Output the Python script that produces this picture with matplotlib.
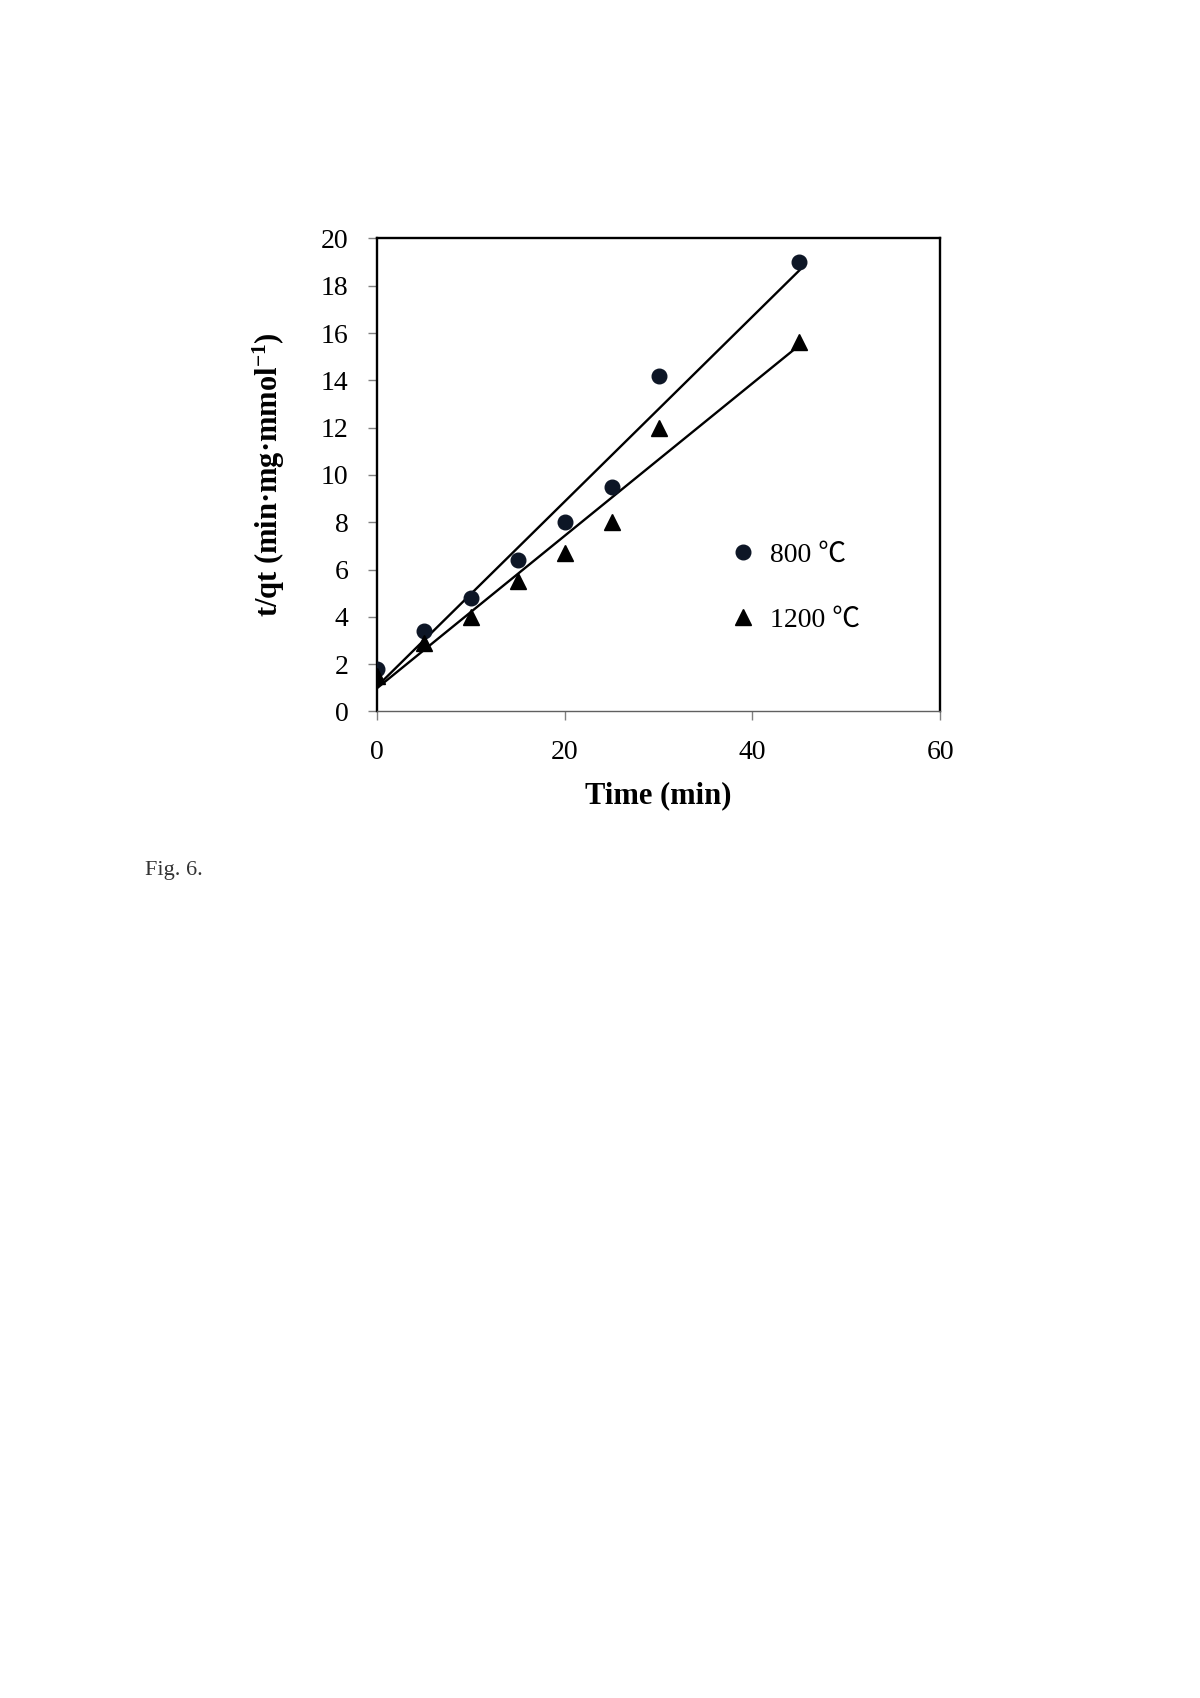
import matplotlib
matplotlib.use('Agg')
import matplotlib.pyplot as plt
import numpy as np

plt.rcParams['font.family'] = ['Liberation Serif', 'Noto Sans CJK SC', 'DejaVu Sans']
plt.rcParams['mathtext.fontset'] = 'custom'
plt.rcParams['mathtext.rm'] = 'Liberation Serif'
plt.rcParams['mathtext.bf'] = 'Liberation Serif:bold'

# tempo (min) e t/qt
tempo = [0, 5, 10, 15, 20, 25, 30, 45]
t_qt_800 = [1.8, 3.4, 4.8, 6.4, 8.0, 9.5, 14.2, 19.0]
t_qt_1200 = [1.5, 2.9, 4.0, 5.5, 6.7, 8.0, 12.0, 15.6]
labels = ['800 ℃', '1200 ℃']

fig = plt.figure(figsize=(12, 16.98), dpi=100)
ax = fig.add_axes([0.3142, 0.581, 0.4692, 0.2786])

ax.plot(tempo, t_qt_800, 'o', color='#0d1626', markersize=10.5, label=labels[0], zorder=3)
ax.plot(tempo, t_qt_1200, '^', color='black', markersize=11, label=labels[1], zorder=3)

# linhas de tendencia (regressao linear)
xx = np.array([tempo[0], tempo[-1]])
for serie in (t_qt_800, t_qt_1200):
    a, b = np.polyfit(tempo, serie, 1)
    ax.plot(xx, a * xx + b, color='black', lw=1.7, zorder=2)

ax.set_xlim(0, 60)
ax.set_ylim(0, 20)
ax.set_xticks([0, 20, 40, 60])
ax.set_yticks(range(0, 21, 2))
ax.tick_params(axis='both', labelsize=20, color='#808080', length=6.5, width=1, direction='out')
ax.tick_params(axis='x', pad=14)
ax.tick_params(axis='y', pad=14)

for s in ('top', 'right', 'left'):
    ax.spines[s].set_linewidth(1.7)
    ax.spines[s].set_color('black')
ax.spines['bottom'].set_linewidth(1.0)
ax.spines['bottom'].set_color('#606060')

ax.set_xlabel('Time (min)', fontsize=22, fontweight='bold', labelpad=12)
ax.set_ylabel('t/qt (min·mg·mmol$\\mathbf{^{-1}}$)', fontsize=22, fontweight='bold', labelpad=24)

ax.legend(loc='center left', bbox_to_anchor=(0.60, 0.262), frameon=False,
          fontsize=20, handlelength=1.0, handletextpad=0.5, labelspacing=1.4, borderpad=0)

fig.text(145 / 1200, 1 - 870 / 1698, 'Fig. 6.', fontsize=16, color='#333333', va='center')

plt.savefig('out.png', dpi=100)
